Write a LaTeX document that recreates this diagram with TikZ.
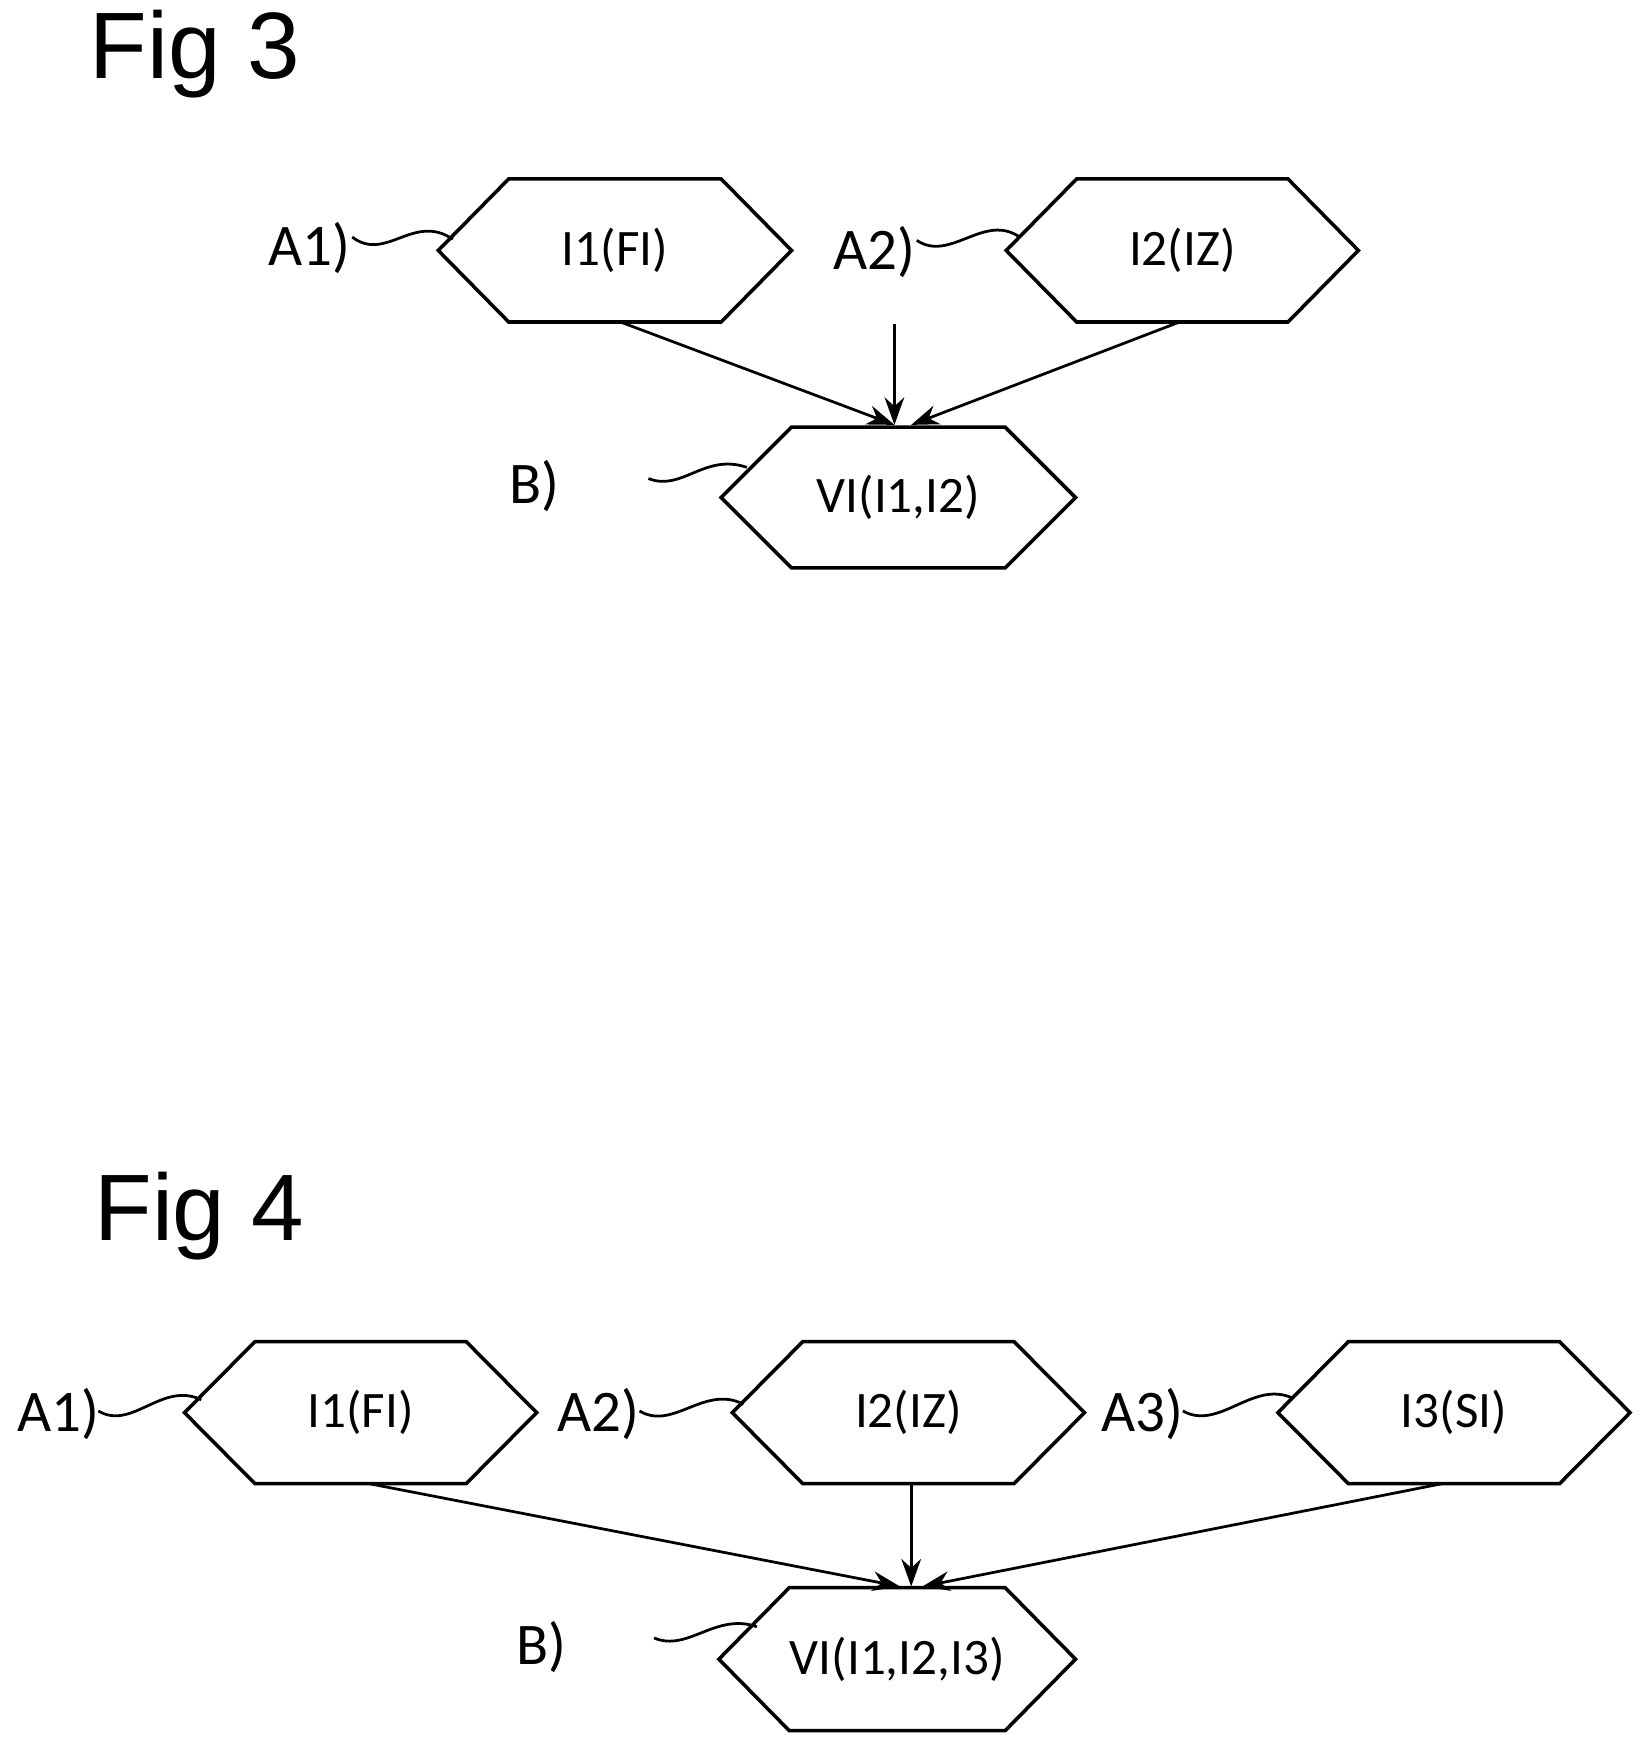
\documentclass[tikz,border=0pt]{standalone}
\usepackage{fontspec}
\setmainfont{Carlito}
\newfontfamily\figfont{Liberation Sans}
\usetikzlibrary{arrows.meta}
\begin{document}
\begin{tikzpicture}[x=0.01cm,y=-0.01cm,
  hex/.style={draw,line width=0.9pt},
  txt/.style={font=\fontsize{13}{15}\selectfont},
  lbl/.style={font=\fontsize{15}{17}\selectfont},
  fig/.style={font=\figfont\fontsize{24}{28}\selectfont,anchor=west},
  arr/.style={-{Stealth[length=7pt,width=5pt]},line width=0.7pt},
  wav/.style={line width=0.7pt}]
\useasboundingbox (0,0) rectangle (1470,1559);
% hexagon: #1 name, #2 left x, #3 right x, #4 top y, #5 bottom y, #6 text
\newcommand{\hexnode}[6]{%
  \pgfmathsetmacro{\ml}{#2+63}\pgfmathsetmacro{\mr}{#3-63}%
  \pgfmathsetmacro{\cy}{(#4+#5)/2}\pgfmathsetmacro{\cx}{(#2+#3)/2}%
  \draw[hex] (#2,\cy) -- (\ml,#4) -- (\mr,#4) -- (#3,\cy) -- (\mr,#5) -- (\ml,#5) -- cycle;
  \node[txt] (#1) at (\cx,\cy) {#6};}
\node[fig] (f3) at (68,48) {Fig 3};
\hexnode{a}{392}{708}{160}{288}{I1(FI)}
\hexnode{b}{900}{1215}{160}{288}{I2(IZ)}
\hexnode{c}{645}{962}{382}{508}{VI(I1,I2)}
\coordinate (ab) at (555,288); \coordinate (bb) at (1055,288);
\coordinate (vs) at (800,290);
\coordinate (ct1) at (800,380); \coordinate (ct2) at (815,380);
\draw[arr] (ab) -- (ct1);
\draw[arr] (vs) -- (ct1);
\draw[arr] (bb) -- (ct2);
\node[lbl] (la1) at (277,222) {A1)};
\node[lbl] (la2) at (782,225) {A2)};
\node[lbl] (lb) at (478,435) {B)};
\coordinate (w1a) at (315,212); \coordinate (w1b) at (405,214);
\coordinate (w2a) at (820,215); \coordinate (w2b) at (912,212);
\coordinate (w3a) at (580,428); \coordinate (w3b) at (668,418);
\draw[wav] (w1a) .. controls (345,235) and (370,190) .. (w1b);
\draw[wav] (w2a) .. controls (850,235) and (880,190) .. (w2b);
\draw[wav] (w3a) .. controls (610,440) and (630,405) .. (w3b);
% Fig 4
\node[fig] (f4) at (72,1088) {Fig 4};
\hexnode{d}{165}{480}{1200}{1327}{I1(FI)}
\hexnode{e}{655}{970}{1200}{1327}{I2(IZ)}
\hexnode{g}{1143}{1458}{1200}{1327}{I3(SI)}
\hexnode{h}{643}{962}{1420}{1548}{VI(I1,I2,I3)}
\coordinate (db) at (330,1327); \coordinate (eb) at (815,1327); \coordinate (gb) at (1290,1327);
\coordinate (ht1) at (805,1419); \coordinate (ht2) at (815,1419); \coordinate (ht3) at (825,1419);
\draw[arr] (db) -- (ht1);
\draw[arr] (eb) -- (ht2);
\draw[arr] (gb) -- (ht3);
\node[lbl] (m1) at (52,1265) {A1)};
\node[lbl] (m2) at (535,1265) {A2)};
\node[lbl] (m3) at (1022,1265) {A3)};
\node[lbl] (mb) at (484,1473) {B)};
\coordinate (v1a) at (88,1262); \coordinate (v1b) at (180,1252);
\coordinate (v2a) at (572,1262); \coordinate (v2b) at (665,1256);
\coordinate (v3a) at (1058,1262); \coordinate (v3b) at (1155,1250);
\coordinate (v4a) at (585,1465); \coordinate (v4b) at (677,1455);
\draw[wav] (v1a) .. controls (118,1280) and (145,1235) .. (v1b);
\draw[wav] (v2a) .. controls (602,1280) and (630,1238) .. (v2b);
\draw[wav] (v3a) .. controls (1090,1280) and (1120,1235) .. (v3b);
\draw[wav] (v4a) .. controls (615,1478) and (640,1442) .. (v4b);
\end{tikzpicture}
\end{document}
